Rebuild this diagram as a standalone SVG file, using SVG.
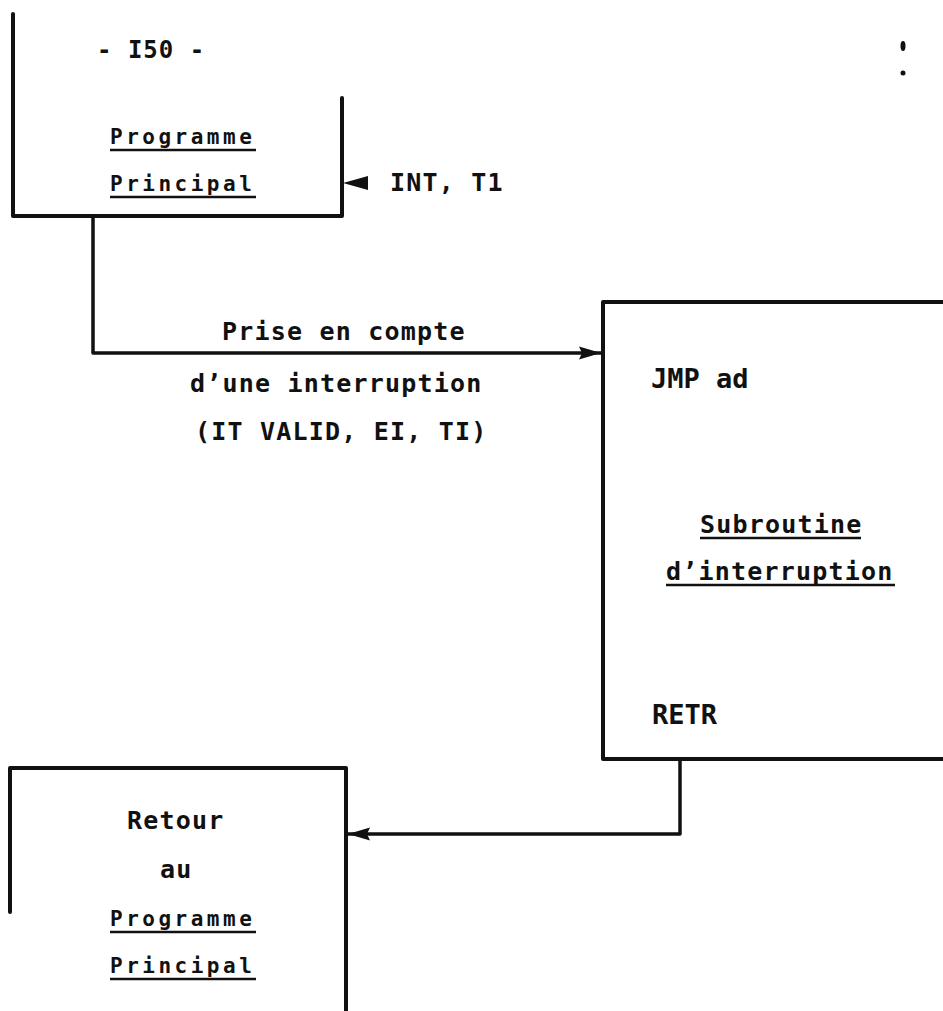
<svg xmlns="http://www.w3.org/2000/svg" width="943" height="1011" viewBox="0 0 943 1011">
<style>
.ln{stroke:#111;stroke-width:4;fill:none;stroke-linecap:round;stroke-linejoin:round}
.cn{stroke:#111;stroke-width:3.5;fill:none;stroke-linecap:round;stroke-linejoin:round}
.ul{stroke:#111;stroke-width:2.5}
text{font-family:"DejaVu Sans Mono","Liberation Mono",monospace;font-weight:bold;fill:#111}
.s{font-size:21px;letter-spacing:3.5px}
.m{font-size:25px;letter-spacing:1.2px}
.b{font-size:27px}
.h{font-size:24px;letter-spacing:1px}
</style>
<defs>
<marker id="ah" markerUnits="userSpaceOnUse" markerWidth="24" markerHeight="16" refX="22" refY="8" orient="auto">
<path d="M0,1.5 L22,8 L0,14.5 L3,8 Z" fill="#111"/>
</marker>
</defs>
<rect width="943" height="1011" fill="#fff"/>
<g id="page-number"><text class="h" x="97" y="58">- I50 -</text></g>
<g id="marks"><ellipse cx="903" cy="46" rx="2.5" ry="5" fill="#111"/><ellipse cx="903" cy="73" rx="2.5" ry="2.5" fill="#111"/></g>
<g id="programme-principal">
<path class="ln" d="M13,14 V216 H342 V98"/>
<text class="s" x="110" y="144">Programme</text>
<line class="ul" x1="110" y1="150" x2="256" y2="150"/>
<text class="s" x="110" y="191">Principal</text>
<line class="ul" x1="110" y1="197" x2="256" y2="197"/>
</g>
<g id="int-input">
<polygon points="343,183 368,176 368,190" fill="#111"/>
<text class="m" x="390" y="191">INT, T1</text>
</g>
<g id="subroutine">
<path class="ln" d="M945,302 H603 V759 H945"/>
<text class="b" x="651" y="388">JMP ad</text>
<text class="m" x="700" y="533">Subroutine</text>
<line class="ul" x1="700" y1="538" x2="861" y2="538"/>
<text class="m" x="666" y="580">d’interruption</text>
<line class="ul" x1="666" y1="585" x2="895" y2="585"/>
<text class="b" x="652" y="724">RETR</text>
</g>
<g id="retour">
<path class="ln" d="M10,912 V768 H346 V1013"/>
<text class="m" x="127" y="829">Retour</text>
<text class="m" x="160" y="878">au</text>
<text class="s" x="110" y="926">Programme</text>
<line class="ul" x1="110" y1="932" x2="256" y2="932"/>
<text class="s" x="110" y="973">Principal</text>
<line class="ul" x1="110" y1="979" x2="256" y2="979"/>
</g>
<g id="connectors">
<path class="cn" d="M93,217 V353 H601" marker-end="url(#ah)"/>
<path class="cn" d="M680,760 V834 H348" marker-end="url(#ah)"/>
<text class="m" x="222" y="340">Prise en compte</text>
<text class="m" x="190" y="392">d’une interruption</text>
<text class="m" x="195" y="440">(IT VALID, EI, TI)</text>
</g>
</svg>
